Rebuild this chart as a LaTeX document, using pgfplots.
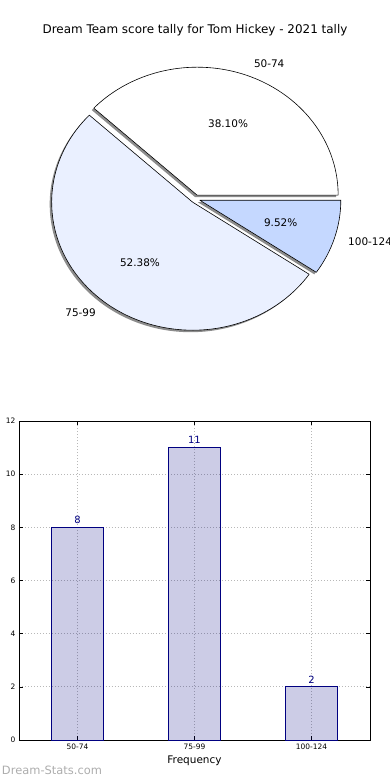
\documentclass[border=0pt]{standalone}
\usepackage{fontspec}
\setmainfont{DejaVu Sans}
\usepackage{pgfplots}
\usepackage{pgfplotstable}
\pgfplotsset{compat=1.18}

\definecolor{navyc}{RGB}{0,0,128}
\definecolor{wedgeA}{RGB}{255,255,255}
\definecolor{wedgeB}{RGB}{234,240,255}
\definecolor{wedgeC}{RGB}{197,216,255}

\pgfplotstableread{
label value
50-74 8
75-99 11
100-124 2
}\scoredata

\begin{document}
\begin{tikzpicture}[x=1bp,y=1bp]
\useasboundingbox (0bp,0bp) rectangle (390bp,-780bp);

% values from the table
\pgfplotstablegetelem{0}{value}\of\scoredata\edef\va{\pgfplotsretval}
\pgfplotstablegetelem{1}{value}\of\scoredata\edef\vb{\pgfplotsretval}
\pgfplotstablegetelem{2}{value}\of\scoredata\edef\vc{\pgfplotsretval}
\pgfmathsetmacro\tot{\va+\vb+\vc}
\pgfmathsetmacro\aA{360*\va/\tot}
\pgfmathsetmacro\aB{\aA+360*\vb/\tot}
\pgfmathsetmacro\mA{\aA/2}
\pgfmathsetmacro\mB{(\aA+\aB)/2}
\pgfmathsetmacro\mC{(\aB+360)/2}
\pgfmathsetmacro\pA{100*\va/\tot}
\pgfmathsetmacro\pB{100*\vb/\tot}
\pgfmathsetmacro\pC{100*\vc/\tot}
\def\ex{0.032}
\newcommand\pct[1]{\pgfmathprintnumber[fixed,fixed zerofill,precision=2,assume math mode=true]{#1}\%}

\node[font=\fontsize{12}{14}\selectfont] at (195bp,-30bp) {Dream Team score tally for Tom Hickey - 2021 tally};

% ---------- pie ----------
\begin{axis}[at={(195.5bp,-199bp)}, anchor=center, width=282bp, height=256bp,
  scale only axis, hide axis, xmin=-1, xmax=1, ymin=-1, ymax=1, clip=false]
  \newcommand\wedgeshadow[3]{%
    \fill[black!45, xshift=-2bp, yshift=-2bp]
      (axis cs:{\ex*cos(#3)},{\ex*sin(#3)}) --
      (axis cs:{\ex*cos(#3)+cos(#1)},{\ex*sin(#3)+sin(#1)})
      arc[start angle=#1, end angle=#2, x radius=141bp, y radius=128bp] -- cycle;}
  \newcommand\wedgefill[4]{%
    \filldraw[fill=#4, draw=black, line width=0.6pt, line join=round]
      (axis cs:{\ex*cos(#3)},{\ex*sin(#3)}) --
      (axis cs:{\ex*cos(#3)+cos(#1)},{\ex*sin(#3)+sin(#1)})
      arc[start angle=#1, end angle=#2, x radius=141bp, y radius=128bp] -- cycle;}
  \wedgeshadow{0}{\aA}{\mA}
  \wedgeshadow{\aA}{\aB}{\mB}
  \wedgeshadow{\aB}{360}{\mC}
  \wedgefill{0}{\aA}{\mA}{wedgeA}
  \wedgefill{\aA}{\aB}{\mB}{wedgeB}
  \wedgefill{\aB}{360}{\mC}{wedgeC}
  \tikzset{pl/.style={font=\fontsize{10.5}{12}\selectfont, inner sep=0pt}}
  \node[pl, anchor=west] at (axis cs:{(\ex+1.1)*cos(\mA)},{(\ex+1.1)*sin(\mA)}) {50-74};
  \node[pl, anchor=east] at (axis cs:{(\ex+1.1)*cos(\mB)},{(\ex+1.1)*sin(\mB)}) {75-99};
  \node[pl, anchor=west] at (axis cs:{(\ex+1.1)*cos(\mC)},{(\ex+1.1)*sin(\mC)}) {100-124};
  \node[pl] at (axis cs:{(\ex+0.6)*cos(\mA)},{(\ex+0.6)*sin(\mA)}) {\pct{\pA}};
  \node[pl] at (axis cs:{(\ex+0.6)*cos(\mB)},{(\ex+0.6)*sin(\mB)}) {\pct{\pB}};
  \node[pl] at (axis cs:{(\ex+0.6)*cos(\mC)},{(\ex+0.6)*sin(\mC)}) {\pct{\pC}};
\end{axis}

% ---------- bars ----------
\begin{axis}[at={(19bp,-740bp)}, anchor=south west, width=351bp, height=319bp,
  scale only axis, ybar,
  xmin=-0.5, xmax=2.5, ymin=0, ymax=12, ytick={0,2,...,12},
  xtick=data, xticklabels from table={\scoredata}{label},
  grid=major, grid style={dash pattern=on 1pt off 2pt, black!28, line width=0.8pt},
  tick align=inside, major tick length=4bp, tick style={black, line width=0.6pt},
  tick label style={font=\fontsize{7.5}{9}\selectfont},
  /pgf/number format/assume math mode=true,
  axis line style={line width=0.8pt},
  xlabel={Frequency}, xlabel style={font=\fontsize{10.5}{12}\selectfont},
  ylabel={Score Tallies},
  ylabel style={font=\fontsize{10.5}{12}\selectfont, at={(axis description cs:-0.058,0.5)}, anchor=south, inner sep=0pt},
  nodes near coords, nodes near coords style={navyc, font=\fontsize{10}{12}\selectfont},
]
\addplot[ybar, bar width=0.44, fill=navyc, fill opacity=0.2, draw=navyc, draw opacity=1, text opacity=1, line width=0.7pt]
  table[x expr=\coordindex, y=value]{\scoredata};
\end{axis}

\node[font=\fontsize{11.5}{13}\selectfont, text=black!32] at (52bp,-770bp) {Dream-Stats.com};
\end{tikzpicture}
\end{document}
